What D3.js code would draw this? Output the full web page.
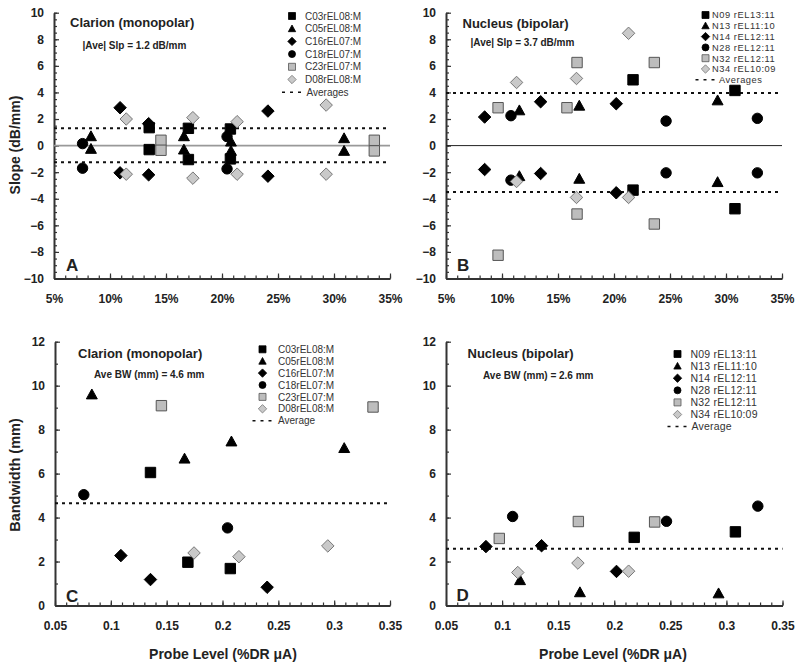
<!DOCTYPE html>
<meta charset="utf-8">
<script src="https://d3js.org/d3.v7.min.js"></script>
<style>
body { margin: 0; background: #fff; }
svg { font-family: Arial, "Liberation Sans", sans-serif; }
.tick text { font-weight: bold; font-size: 12px; fill: #222; }
</style>
<div id="chart"></div>
<script>

// ---- data ----
var clarionNames = ["C03rEL08:M", "C05rEL08:M", "C16rEL07:M", "C18rEL07:M", "C23rEL07:M", "D08rEL08:M"];
var nucleusNames = ["N09 rEL13:11", "N13 rEL11:10", "N14 rEL12:11", "N28 rEL12:11", "N32 rEL12:11", "N34 rEL10:09"];

var pctTicks = [5, 10, 15, 20, 25, 30, 35];
var probeTicks = [0.05, 0.1, 0.15, 0.2, 0.25, 0.3, 0.35];
var slopeTicks = [-10, -8, -6, -4, -2, 0, 2, 4, 6, 8, 10];
var bwTicks = [0, 2, 4, 6, 8, 10, 12];

// [series, probe level (%), slope (dB/mm)]
var slopeClarion = [
  [2, 10.9, 2.85], [2, 10.9, -2.05], [2, 13.45, 1.65], [2, 13.45, -2.2], [2, 24.1, 2.6], [2, 24.1, -2.3],
  [1, 8.3, 0.7], [1, 8.3, -0.25], [1, 16.6, 0.7], [1, 16.6, -0.3], [1, 20.8, 0.3], [1, 20.8, -0.4], [1, 30.9, 0.55], [1, 30.9, -0.4],
  [0, 13.5, 1.35], [0, 13.5, -0.3], [0, 17.0, 1.3], [0, 17.0, -1.05], [0, 20.75, 1.25], [0, 20.75, -1.0],
  [3, 7.55, 0.15], [3, 7.55, -1.7], [3, 20.45, 0.68], [3, 20.45, -1.75],
  [4, 14.55, 0.4], [4, 14.55, -0.35], [4, 33.6, 0.4], [4, 33.6, -0.4],
  [5, 11.45, 2.0], [5, 11.45, -2.15], [5, 17.4, 2.1], [5, 17.4, -2.45], [5, 21.35, 1.8], [5, 21.35, -2.15], [5, 29.3, 3.05], [5, 29.3, -2.15]
];
var slopeNucleus = [
  [0, 21.7, 4.95], [0, 21.7, -3.35], [0, 30.8, 4.15], [0, 30.8, -4.75],
  [1, 11.55, 2.65], [1, 11.55, -2.3], [1, 16.9, 3.0], [1, 16.9, -2.5], [1, 29.25, 3.4], [1, 29.25, -2.75],
  [2, 8.45, 2.15], [2, 8.45, -1.8], [2, 13.45, 3.3], [2, 13.45, -2.1], [2, 20.2, 3.15], [2, 20.2, -3.55],
  [3, 10.8, 2.25], [3, 10.8, -2.6], [3, 24.65, 1.85], [3, 24.65, -2.05], [3, 32.8, 2.05], [3, 32.8, -2.05],
  [4, 9.65, 2.85], [4, 9.65, -8.25], [4, 15.8, 2.85], [4, 16.7, 6.25], [4, 16.7, -5.15], [4, 23.6, 6.25], [4, 23.6, -5.9],
  [5, 11.3, 4.75], [5, 11.3, -2.7], [5, 16.65, 5.05], [5, 16.65, -3.9], [5, 21.3, 8.45], [5, 21.3, -3.9]
];
// [series, probe level (%DR uA), bandwidth (mm)]
var bwClarion = [
  [0, 0.1355, 6.05], [0, 0.169, 1.97], [0, 0.207, 1.68],
  [1, 0.083, 9.6], [1, 0.166, 6.68], [1, 0.208, 7.46], [1, 0.309, 7.16],
  [2, 0.109, 2.27], [2, 0.1355, 1.18], [2, 0.240, 0.83],
  [3, 0.0758, 5.04], [3, 0.2045, 3.53],
  [4, 0.1453, 9.09], [4, 0.3348, 9.03],
  [5, 0.1745, 2.39], [5, 0.2147, 2.22], [5, 0.2943, 2.71]
];
var bwNucleus = [
  [0, 0.2178, 3.1], [0, 0.308, 3.35],
  [1, 0.116, 1.15], [1, 0.1694, 0.6], [1, 0.293, 0.55],
  [2, 0.0856, 2.68], [2, 0.1352, 2.72], [2, 0.202, 1.55],
  [3, 0.1094, 4.05], [3, 0.2466, 3.83], [3, 0.328, 4.52],
  [4, 0.0975, 3.05], [4, 0.168, 3.82], [4, 0.236, 3.8],
  [5, 0.114, 1.5], [5, 0.1676, 1.93], [5, 0.2128, 1.56]
];
var slopeAverages = [[1.3, -1.25], [3.95, -3.5]];
var bwAverages = [4.65, 2.58];

// ---- marker styles ----
var shapes = ["square", "triangle", "diamond", "circle", "square", "diamond"];
var fills = ["#000", "#000", "#000", "#000", "#bdbdbd", "#c9c9c9"];
var strokes = ["#000", "#000", "#000", "#000", "#555", "#777"];

function markerPath(shape, s) {
  if (shape == "square") return "M" + (-s) + "," + (-s) + "h" + 2 * s + "v" + 2 * s + "h" + (-2 * s) + "Z";
  if (shape == "triangle") return "M0," + (-s * 1.05) + "L" + (s * 1.05) + "," + (s * 0.85) + "L" + (-s * 1.05) + "," + (s * 0.85) + "Z";
  if (shape == "diamond") return "M0," + (-s * 1.2) + "L" + (s * 1.2) + ",0L0," + (s * 1.2) + "L" + (-s * 1.2) + ",0Z";
  return "M" + s + ",0A" + s + "," + s + " 0 1,1 " + (-s) + ",0A" + s + "," + s + " 0 1,1 " + s + ",0Z";
}

var svg = d3.select("#chart").append("svg")
  .attr("width", 800)
  .attr("height", 665);

var panels = [
  { x0: 54, x1: 390, y0: 278.5, y1: 12.7, xd: [5, 35], yd: [-10, 10], xt: pctTicks, yt: slopeTicks,
    xminor: 1, yminor: 0.5, fmt: function (d) { return d + "%"; }, data: slopeClarion, names: clarionNames,
    avg: slopeAverages[0], zero: { color: "#999", w: 1.6 },
    title: "Clarion (monopolar)", tx: 70, ty: 26.5, sub: "|Ave| Slp = 1.2 dB/mm", sx: 82.5, sy: 48.5,
    letter: "A", lx: 66, ly: 271,
    leg: { mx: 292, tx: 305, y: 16, dy: 12.7, fs: 10, ls: 0, avgTx: 306.5, avgLabel: "Averages" } },
  { x0: 446, x1: 782, y0: 278.5, y1: 12.7, xd: [5, 35], yd: [-10, 10], xt: pctTicks, yt: slopeTicks,
    xminor: 1, yminor: 0.5, fmt: function (d) { return d + "%"; }, data: slopeNucleus, names: nucleusNames,
    avg: slopeAverages[1], zero: { color: "#222", w: 1 },
    title: "Nucleus (bipolar)", tx: 462.5, ty: 28, sub: "|Ave| Slp = 3.7 dB/mm", sx: 470.5, sy: 46,
    letter: "B", lx: 457, ly: 271,
    leg: { mx: 705.5, tx: 712, y: 15, dy: 10.8, fs: 9.3, ls: 0.55, avgTx: 719, avgLabel: "Averages" } },
  { x0: 55, x1: 390, y0: 605.5, y1: 341.7, xd: [0.05, 0.35], yd: [0, 12], xt: probeTicks, yt: bwTicks,
    xminor: 0.01, yminor: 1, fmt: function (d) { return String(+d.toFixed(2)); }, data: bwClarion, names: clarionNames,
    avg: [bwAverages[0]], zero: null,
    title: "Clarion (monopolar)", tx: 78, ty: 357.5, sub: "Ave BW (mm) = 4.6 mm", sx: 94, sy: 378,
    letter: "C", lx: 66, ly: 602,
    leg: { mx: 262.5, tx: 278, y: 349.3, dy: 11.9, fs: 10, ls: 0, avgTx: 278, avgLabel: "Average" } },
  { x0: 446, x1: 782.5, y0: 605.5, y1: 341.7, xd: [0.05, 0.35], yd: [0, 12], xt: probeTicks, yt: bwTicks,
    xminor: 0.01, yminor: 1, fmt: function (d) { return String(+d.toFixed(2)); }, data: bwNucleus, names: nucleusNames,
    avg: [bwAverages[1]], zero: null,
    title: "Nucleus (bipolar)", tx: 467.5, ty: 358, sub: "Ave BW (mm) = 2.6 mm", sx: 483, sy: 378.5,
    letter: "D", lx: 456.5, ly: 601,
    leg: { mx: 677.5, tx: 690.5, y: 354, dy: 12.1, fs: 10.5, ls: 0.2, avgTx: 691.5, avgLabel: "Average" } }
];

panels.forEach(function (p) {
  var x = d3.scaleLinear().domain(p.xd).range([p.x0, p.x1]);
  var y = d3.scaleLinear().domain(p.yd).range([p.y0, p.y1]);
  var g = svg.append("g");

  // minor ticks (inside)
  var xm = d3.range(p.xd[0], p.xd[1] + p.xminor / 2, p.xminor);
  var ym = d3.range(p.yd[0], p.yd[1] + p.yminor / 2, p.yminor);
  g.append("g").attr("transform", "translate(0," + p.y0 + ")")
    .call(d3.axisBottom(x).tickValues(xm).tickSizeInner(-3).tickSizeOuter(0).tickFormat(""))
    .call(function (a) { a.select(".domain").remove(); a.selectAll("line").attr("stroke", "#333").attr("stroke-width", 1.2); });
  g.append("g").attr("transform", "translate(" + p.x0 + ",0)")
    .call(d3.axisLeft(y).tickValues(ym).tickSizeInner(-3).tickSizeOuter(0).tickFormat(""))
    .call(function (a) { a.select(".domain").remove(); a.selectAll("line").attr("stroke", "#333").attr("stroke-width", 1.2); });

  // major ticks + labels
  g.append("g").attr("transform", "translate(0," + p.y0 + ")")
    .call(d3.axisBottom(x).tickValues(p.xt).tickSizeInner(-5).tickSizeOuter(0).tickPadding(15.5).tickFormat(p.fmt))
    .call(function (a) {
      a.select(".domain").attr("stroke", "#333").attr("stroke-width", 2);
      a.selectAll("line").attr("stroke", "#333").attr("stroke-width", 1.2);
    });
  g.append("g").attr("transform", "translate(" + p.x0 + ",0)")
    .call(d3.axisLeft(y).tickValues(p.yt).tickSizeInner(-5).tickSizeOuter(0).tickPadding(10))
    .call(function (a) {
      a.select(".domain").attr("stroke", "#333").attr("stroke-width", 2);
      a.selectAll("line").attr("stroke", "#333").attr("stroke-width", 1.2);
    });

  // zero line
  if (p.zero) {
    g.append("line")
      .attr("x1", p.x0).attr("x2", p.x1)
      .attr("y1", y(0)).attr("y2", y(0))
      .attr("stroke", p.zero.color).attr("stroke-width", p.zero.w);
  }

  // averages
  p.avg.forEach(function (v) {
    g.append("line")
      .attr("x1", p.x0).attr("x2", p.x1)
      .attr("y1", y(v)).attr("y2", y(v))
      .attr("stroke", "#111").attr("stroke-width", 2)
      .attr("stroke-dasharray", "3,4");
  });

  // markers
  g.append("g").selectAll("path")
    .data(p.data)
    .enter()
    .append("path")
      .attr("transform", function (d) { return "translate(" + x(d[1]) + "," + y(d[2]) + ")"; })
      .attr("d", function (d) { return markerPath(shapes[d[0]], 5.2); })
      .attr("fill", function (d) { return fills[d[0]]; })
      .attr("stroke", function (d) { return strokes[d[0]]; })
      .attr("stroke-width", 1);

  // titles
  g.append("text").attr("x", p.tx).attr("y", p.ty)
    .style("font-size", "13px").style("font-weight", "bold").attr("fill", "#222").text(p.title);
  g.append("text").attr("x", p.sx).attr("y", p.sy)
    .style("font-size", "10px").style("font-weight", "bold").attr("fill", "#222").text(p.sub);
  g.append("text").attr("x", p.lx).attr("y", p.ly)
    .style("font-size", "17px").style("font-weight", "bold").attr("fill", "#222").text(p.letter);

  // legend
  var L = p.leg;
  var lg = g.append("g");
  p.names.forEach(function (name, i) {
    var yy = L.y + i * L.dy;
    lg.append("path")
      .attr("transform", "translate(" + L.mx + "," + yy + ")")
      .attr("d", markerPath(shapes[i], 3.5))
      .attr("fill", fills[i]).attr("stroke", strokes[i]).attr("stroke-width", 0.8);
    lg.append("text").attr("x", L.tx).attr("y", yy + L.fs * 0.36)
      .style("font-size", L.fs + "px").style("letter-spacing", L.ls + "px")
      .attr("fill", "#333").text(name);
  });
  var ya = L.y + 6 * L.dy;
  lg.append("line")
    .attr("x1", L.mx - 10).attr("x2", L.mx + 10)
    .attr("y1", ya).attr("y2", ya)
    .attr("stroke", "#111").attr("stroke-width", 1.5).attr("stroke-dasharray", "3,5");
  lg.append("text").attr("x", L.avgTx).attr("y", ya + L.fs * 0.36)
    .style("font-size", L.fs + "px").style("letter-spacing", L.ls + "px")
    .attr("fill", "#333").text(L.avgLabel);
});

// axis titles
svg.append("text")
  .attr("transform", "translate(20,145) rotate(-90)")
  .attr("text-anchor", "middle")
  .style("font-size", "14px").style("font-weight", "bold").attr("fill", "#222")
  .text("Slope (dB/mm)");
svg.append("text")
  .attr("transform", "translate(20,475) rotate(-90)")
  .attr("text-anchor", "middle")
  .style("font-size", "14.5px").style("font-weight", "bold").attr("fill", "#222")
  .text("Bandwidth (mm)");
[223, 613].forEach(function (cx) {
  svg.append("text")
    .attr("x", cx).attr("y", 659)
    .attr("text-anchor", "middle")
    .style("font-size", "14px").style("font-weight", "bold").attr("fill", "#222")
    .text("Probe Level (%DR μA)");
});

</script>
